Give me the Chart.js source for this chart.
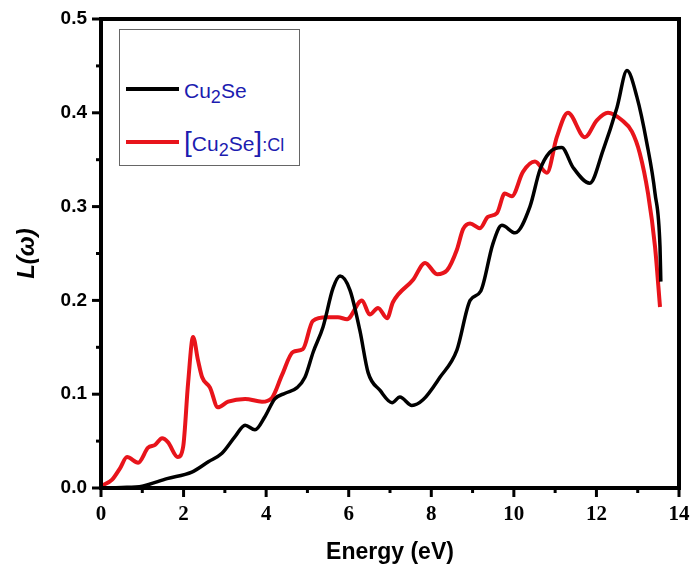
<!DOCTYPE html>
<html>
<head>
<meta charset="utf-8">
<script src="https://cdn.jsdelivr.net/npm/chart.js@4.4.1/dist/chart.umd.min.js"></script>
<style>
  html, body { margin: 0; padding: 0; background: #fff; }
  #wrap { position: relative; width: 691px; height: 575px; }
  #legend {
    position: absolute; left: 119px; top: 29px; width: 179px; height: 135px;
    border: 1px solid #666; background: #fff;
    font-family: "Liberation Sans", Arial, sans-serif; color: #1c1cb0;
  }
  #legend .swatch { position: absolute; left: 6px; width: 53px; }
  #legend .label { position: absolute; left: 64px; white-space: nowrap; line-height: 1; }
  #legend .main { font-size: 21px; }
  #legend sub { font-size: 18px; vertical-align: -5px; line-height: 1; }
  #legend .br { font-size: 28px; }
  #legend .tail { font-size: 18px; }
</style>
</head>
<body>
<div id="wrap">
  <canvas id="lossChart" width="691" height="575"></canvas>
  <div id="legend">
    <div class="swatch" style="top:57px;height:3.5px;background:#000"></div>
    <div class="label main" style="top:50px">Cu<sub>2</sub>Se</div>
    <div class="swatch" style="top:110px;height:4px;background:#e8141b"></div>
    <div class="label" style="top:98px"><span class="br">[</span><span class="main">Cu<sub>2</sub>Se</span><span class="br">]</span><span class="tail">:Cl</span></div>
  </div>
</div>
<script>
const energyCu = [0, 0.5, 1.0, 1.6, 2.2, 2.6, 2.93, 3.25, 3.49, 3.73, 3.97, 4.21, 4.46, 4.75, 4.94, 5.14, 5.38, 5.62, 5.79, 6.03, 6.27, 6.47, 6.76, 7.05, 7.24, 7.53, 7.8, 8.21, 8.62, 8.94, 9.2, 9.49, 9.71, 10.03, 10.39, 10.63, 10.87, 11.16, 11.43, 11.84, 12.16, 12.5, 12.74, 12.98, 13.22, 13.42, 13.54, 13.56]
const lossCu = [0, 0.0005, 0.002, 0.01, 0.017, 0.028, 0.037, 0.055, 0.067, 0.062, 0.076, 0.095, 0.101, 0.107, 0.118, 0.145, 0.172, 0.213, 0.226, 0.211, 0.168, 0.123, 0.104, 0.091, 0.097, 0.088, 0.094, 0.118, 0.147, 0.2, 0.21, 0.26, 0.28, 0.272, 0.3, 0.339, 0.358, 0.363, 0.342, 0.325, 0.36, 0.406, 0.445, 0.417, 0.368, 0.314, 0.257, 0.22]

const energyCl = [0, 0.27, 0.46, 0.63, 0.9, 1.14, 1.31, 1.48, 1.62, 1.86, 1.99, 2.11, 2.23, 2.35, 2.45, 2.64, 2.83, 3.08, 3.49, 3.9, 4.14, 4.38, 4.65, 4.89, 5.13, 5.47, 5.74, 5.96, 6.32, 6.51, 6.71, 6.93, 7.07, 7.56, 7.85, 8.14, 8.38, 8.62, 8.77, 8.94, 9.18, 9.37, 9.59, 9.78, 9.95, 10.22, 10.51, 10.8, 11.04, 11.31, 11.72, 12.01, 12.28, 12.62, 12.86, 13.05, 13.25, 13.42, 13.54]
const lossCl = [0.002, 0.009, 0.021, 0.033, 0.027, 0.043, 0.046, 0.053, 0.049, 0.033, 0.044, 0.112, 0.161, 0.136, 0.118, 0.107, 0.086, 0.092, 0.095, 0.092, 0.096, 0.12, 0.145, 0.148, 0.178, 0.182, 0.182, 0.18, 0.2, 0.185, 0.192, 0.181, 0.198, 0.222, 0.24, 0.228, 0.232, 0.254, 0.276, 0.282, 0.277, 0.289, 0.293, 0.314, 0.311, 0.337, 0.348, 0.336, 0.374, 0.4, 0.374, 0.392, 0.4, 0.392, 0.38, 0.357, 0.314, 0.257, 0.193]

const xTicks = [0, 2, 4, 6, 8, 10, 12, 14]
const yTicks = [0.0, 0.1, 0.2, 0.3, 0.4, 0.5]

const toPoints = (xs, ys) => xs.map((x, i) => ({ x, y: ys[i] }))

// frame + outward ticks (major/minor), drawn over the curves
const framePlugin = {
  id: 'frame',
  afterDatasetsDraw(chart) {
    const { ctx, chartArea: a, scales: { x, y } } = chart
    ctx.save()
    ctx.strokeStyle = '#000'
    ctx.lineWidth = 3
    for (let v = 0; v <= 14; v++) {
      const px = x.getPixelForValue(v)
      const len = v % 2 === 0 ? 9 : 5
      ctx.beginPath()
      ctx.moveTo(px, a.bottom)
      ctx.lineTo(px, a.bottom + len)
      ctx.stroke()
    }
    for (let i = 0; i <= 10; i++) {
      const py = y.getPixelForValue(i * 0.05)
      const len = i % 2 === 0 ? 9 : 5
      ctx.beginPath()
      ctx.moveTo(a.left, py)
      ctx.lineTo(a.left - len, py)
      ctx.stroke()
    }
    ctx.lineWidth = 4
    ctx.strokeRect(a.left, a.top, a.right - a.left, a.bottom - a.top)
    ctx.restore()
  }
}

new Chart(document.getElementById('lossChart'), {
  type: 'line',
  data: {
    datasets: [
      {
        label: 'Cu2Se',
        data: toPoints(energyCu, lossCu),
        borderColor: '#000',
        borderWidth: 3.5,
        pointRadius: 0,
        cubicInterpolationMode: 'monotone'
      },
      {
        label: '[Cu2Se]:Cl',
        data: toPoints(energyCl, lossCl),
        borderColor: '#e8141b',
        borderWidth: 4,
        pointRadius: 0,
        cubicInterpolationMode: 'monotone'
      }
    ]
  },
  options: {
    responsive: false,
    animation: false,
    layout: { padding: { top: 19, right: 12, left: 0, bottom: 0 } },
    plugins: { legend: { display: false }, tooltip: { enabled: false } },
    scales: {
      x: {
        type: 'linear',
        min: 0,
        max: 14,
        afterFit: (s) => { s.height = 87; s.paddingLeft = 0; s.paddingRight = 0 },
        afterBuildTicks: (s) => { s.ticks = xTicks.map(v => ({ value: v })) },
        grid: { display: false, drawTicks: false },
        border: { display: false },
        ticks: {
          padding: 14,
          color: '#000',
          font: { family: '"Liberation Serif", "Times New Roman", serif', size: 21, weight: 'bold' }
        },
        title: {
          display: true,
          text: 'Energy (eV)',
          color: '#000',
          padding: { top: 0, bottom: 9 },
          font: { family: '"Liberation Sans", Arial, sans-serif', size: 23, weight: 'bold' }
        }
      },
      y: {
        min: 0,
        max: 0.5,
        afterFit: (s) => { s.width = 101; s.paddingTop = 0; s.paddingBottom = 0 },
        afterBuildTicks: (s) => { s.ticks = yTicks.map(v => ({ value: v })) },
        grid: { display: false, drawTicks: false },
        border: { display: false },
        ticks: {
          padding: 14,
          color: '#000',
          callback: (v) => v.toFixed(1),
          font: { family: '"Liberation Sans", Arial, sans-serif', size: 19, weight: 'bold' }
        },
        title: {
          display: true,
          text: 'L(ω)',
          color: '#000',
          padding: { top: 13, bottom: 0 },
          font: { family: '"Liberation Sans", Arial, sans-serif', size: 24, weight: 'bold', style: 'italic' }
        }
      }
    }
  },
  plugins: [framePlugin]
})
</script>
</body>
</html>
